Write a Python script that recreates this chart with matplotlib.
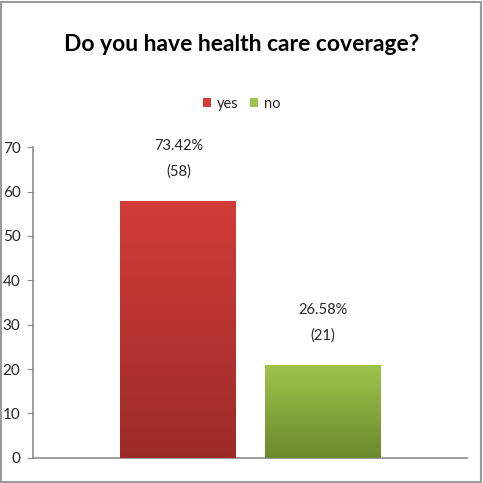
import matplotlib
matplotlib.use("Agg")
import matplotlib.pyplot as plt
import numpy as np
from matplotlib.colors import LinearSegmentedColormap
from matplotlib.patches import Rectangle

series = ["yes", "no"]
counts = [58, 21]
pcts = ["73.42%", "26.58%"]
offsets = [-0.165, 0.168]
tops = ["#D23C39", "#9DC54B"]
bottoms = ["#9C2B28", "#6B8A2D"]
yticks = [0, 10, 20, 30, 40, 50, 60, 70]

INK = "#262626"; AX = "#8C8C8C"
plt.rcParams.update({"font.family": ["Lato", "DejaVu Sans"]})

fig = plt.figure(figsize=(4.83, 4.83), dpi=100)
ax = fig.add_axes([0.0683, 0.0524, 0.8986, 0.6426])

W = 0.267
for name, v, x, ct, cb in zip(series, counts, offsets, tops, bottoms):
    bar = ax.bar(x, v, width=W, color=ct, label=name, zorder=2)[0]
    cmap = LinearSegmentedColormap.from_list(name, [cb, ct])
    grad = np.linspace(0, 1, 256).reshape(-1, 1)
    im = ax.imshow(grad, cmap=cmap, origin="lower", aspect="auto",
                   extent=[x - W / 2, x + W / 2, 0, v], zorder=3)
    im.set_clip_path(bar)

for v, x, p in zip(counts, offsets, pcts):
    ax.text(x, v + 12.3, p, ha="center", va="center", fontsize=10.5, color=INK)
    ax.text(x, v + 6.6, f"({v})", ha="center", va="center", fontsize=10.5, color=INK)

ax.set_xlim(-0.5, 0.5)
ax.set_ylim(0, 70)
ax.set_yticks(yticks)
ax.set_xticks([])
ax.tick_params(axis="y", length=4, color=AX, labelsize=11, labelcolor=INK, pad=5)
for s in ["top", "right"]:
    ax.spines[s].set_visible(False)
for s in ["left", "bottom"]:
    ax.spines[s].set_color(AX)
    ax.spines[s].set_linewidth(1.2)

fig.text(0.5, 0.907, "Do you have health care coverage?", ha="center", va="center",
         fontsize=16.5, fontweight="bold", color="black")
fig.legend(loc="center", bbox_to_anchor=(0.5, 0.785), ncol=2, frameon=False,
           fontsize=10.5, handlelength=0.55, handleheight=0.6, handletextpad=0.4,
           columnspacing=0.8, labelcolor=INK)

fig.patches.append(Rectangle((0.002, 0.002), 0.994, 0.994, transform=fig.transFigure,
                             fill=False, edgecolor="#9A9A9A", lw=1.5))
fig.savefig("out.png", facecolor="white")
